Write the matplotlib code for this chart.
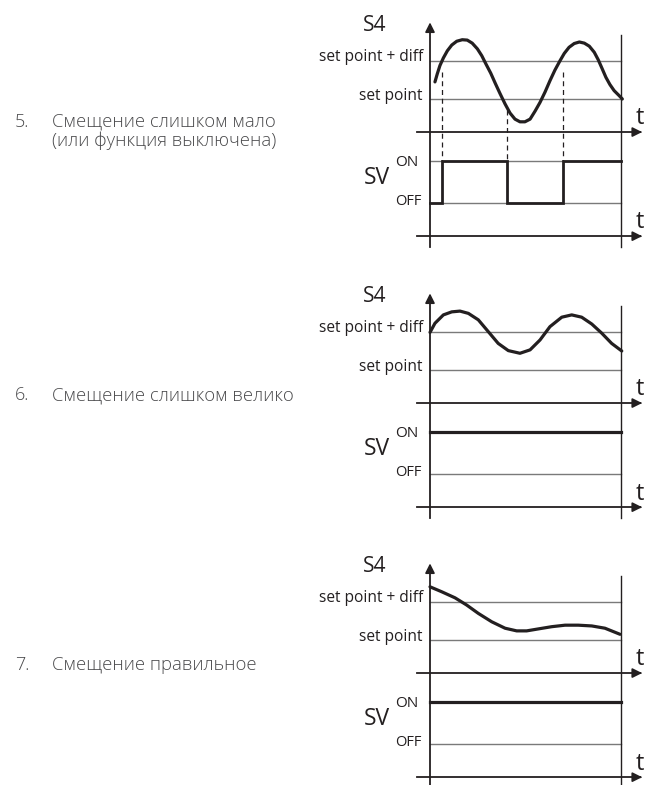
import matplotlib
matplotlib.use("Agg")
import matplotlib.pyplot as plt

plt.rcParams['font.family'] = ['Open Sans', 'DejaVu Sans']

W, H = 649, 785

# levels (set point = 1, set point + diff = 2)
SP = 1.0
SPD = 2.0
T1 = 0.13      # upper time axis
ON = -0.62
OFF = -1.74
T2 = -2.61     # lower time axis
T_END = 10.0

# panel 5: sensor S4
t5 = [0.26, 0.38, 0.52, 0.70, 0.91, 1.14, 1.40, 1.69, 1.95, 2.21, 2.48, 2.71, 2.93, 3.18,
      3.42, 3.66, 3.93, 4.19, 4.45, 4.71, 4.97, 5.24, 5.50, 5.76, 6.02, 6.28, 6.54, 6.81,
      7.03, 7.28, 7.55, 7.82, 8.08, 8.34, 8.60, 8.81, 9.02, 9.21, 9.42, 9.64, 9.90, 10.07]
s5 = [1.45, 1.66, 1.88, 2.08, 2.27, 2.42, 2.52, 2.56, 2.55, 2.47, 2.32, 2.14, 1.92, 1.68,
      1.41, 1.15, 0.87, 0.63, 0.47, 0.40, 0.40, 0.47, 0.68, 0.91, 1.18, 1.48, 1.76, 2.01,
      2.20, 2.36, 2.46, 2.50, 2.47, 2.39, 2.23, 2.03, 1.79, 1.57, 1.38, 1.22, 1.09, 1.00]
sw5 = [0.0, 0.64, 4.03, 6.97, 10.0]        # valve switch times
sv5 = ['OFF', 'ON', 'OFF', 'ON']

# panel 6
t6 = [0.0, 0.26, 0.70, 1.14, 1.57, 2.01, 2.53, 3.05, 3.57, 4.10, 4.71, 5.24, 5.76, 6.28,
      6.90, 7.42, 7.94, 8.47, 8.99, 9.51, 10.04]
s6 = [1.99, 2.23, 2.45, 2.53, 2.55, 2.49, 2.32, 2.01, 1.70, 1.51, 1.44, 1.53, 1.79, 2.14,
      2.39, 2.45, 2.39, 2.21, 1.97, 1.70, 1.50]

# panel 7
t7 = [0.0, 0.61, 1.31, 1.92, 2.53, 3.23, 3.93, 4.54, 5.06, 5.65, 6.37, 7.07, 7.76, 8.47,
      9.16, 9.95]
s7 = [2.40, 2.27, 2.11, 1.92, 1.70, 1.48, 1.31, 1.24, 1.24, 1.29, 1.35, 1.39, 1.39, 1.37,
      1.31, 1.15]

labels = [("5.", ["Смещение слишком мало", "(или функция выключена)"]),
          ("6.", ["Смещение слишком велико"]),
          ("7.", ["Смещение правильное"])]
sp_px = [99, 370, 640]       # pixel row of the set point line in each panel
label_px = [122, 395, 665]

ink = '#231f20'
grey = '#7a7a7a'
txt_grey = '#4a4a4c'

fig = plt.figure(figsize=(W / 100, H / 100), dpi=100)


def panel(ysp, t, s, sw=None, sv=None):
    ax = fig.add_axes([300 / W, 1 - (ysp + 150) / H, 349 / W, 245 / H])
    ax.set_xlim((300 - 430) / 19.1, (649 - 430) / 19.1)
    ax.set_ylim(1 - 150 / 38, 1 + 95 / 38)
    ax.axis('off')

    # reference lines
    for y in (SPD, SP, ON, OFF):
        ax.plot([0, T_END], [y, y], color=grey, lw=1.0)
    # right boundary
    ax.plot([T_END, T_END], [-2.9, 2.68], color=ink, lw=1.0)
    # vertical axis with arrow
    ax.plot([0, 0], [-2.9, 2.9], color=ink, lw=1.3)
    ax.annotate('', xy=(0, 3.09), xytext=(0, 2.8),
                arrowprops=dict(arrowstyle='-|>', color=ink, lw=1.3, mutation_scale=14))
    # time axes
    for y in (T1, T2):
        ax.plot([-0.68, 10.9], [y, y], color=ink, lw=1.3)
        ax.annotate('', xy=(11.25, y), xytext=(10.8, y),
                    arrowprops=dict(arrowstyle='-|>', color=ink, lw=1.3, mutation_scale=14))
        ax.text(11.0, y + 0.36, 't', fontsize=17, color=ink, ha='center', va='center')

    ax.text(-2.88, 2.93, 'S4', fontsize=15, color=ink, ha='center', va='center')
    ax.text(-0.37, SPD + 0.1, 'set point + diff', fontsize=11.2, color=ink, ha='right', va='center')
    ax.text(-0.37, SP + 0.08, 'set point', fontsize=11.2, color=ink, ha='right', va='center')
    ax.text(-2.77, -1.07, 'SV', fontsize=16.5, color=ink, ha='center', va='center')
    ax.text(-1.2, -0.66, 'ON', fontsize=11, color=ink, ha='center', va='center')
    ax.text(-1.15, -1.71, 'OFF', fontsize=10.5, color=ink, ha='center', va='center')

    # S4 curve
    ax.plot(t, s, color=ink, lw=2.3, solid_joinstyle='round', solid_capstyle='round')

    # valve state
    if sw is None:
        ax.plot([0, T_END], [ON, ON], color=ink, lw=2.3)
    else:
        lv = {'ON': ON, 'OFF': OFF}
        xs, ys = [], []
        for i, st in enumerate(sv):
            xs += [sw[i], sw[i + 1]]
            ys += [lv[st], lv[st]]
        ax.plot(xs, ys, color=ink, lw=2.0, solid_joinstyle='miter')
        for i in range(1, len(sw) - 1):
            y0 = SPD if sv[i] == 'ON' else SP
            ax.plot([sw[i], sw[i]], [y0 - 0.3, ON], color=ink, lw=0.9, ls=(0, (4, 3)))
    return ax


panel(sp_px[0], t5, s5, sw5, sv5)
panel(sp_px[1], t6, s6)
panel(sp_px[2], t7, s7)

for (num, lines), ypx in zip(labels, label_px):
    fig.text(15 / W, 1 - ypx / H, num, fontsize=13, color=txt_grey, ha='left', va='center',
             fontweight='light')
    for k, line in enumerate(lines):
        fig.text(52 / W, 1 - (ypx + 18.5 * k) / H, line, fontsize=13.3, color=txt_grey,
                 ha='left', va='center', fontweight='light')

fig.savefig('out.png', dpi=100, facecolor='white')
